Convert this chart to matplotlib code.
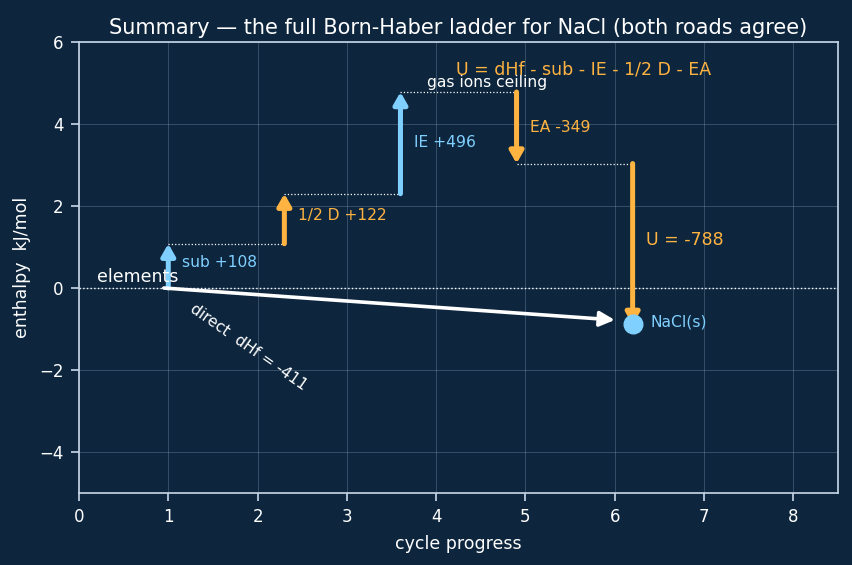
import matplotlib
matplotlib.use("Agg")
import matplotlib.pyplot as plt

# data (y positions in chart units as drawn)
steps_x = [1.0, 2.3, 3.6, 4.9, 6.2]
levels = [0.0, 1.08, 2.30, 4.78, 3.035, -0.9]
step_labels = ["sub +108", "1/2 D +122", "IE +496", "EA -349", "U = -788"]
step_colors = ["#7fd0ff", "#ffb340", "#7fd0ff", "#ffb340", "#ffb340"]
direct_start = (0.95, 0.0)
direct_end = (6.0, -0.78)
nacl_point = (6.2, -0.87)

BG = "#0d263e"
FG = "white"
SPINE = "#c8d8e8"

fig = plt.figure(figsize=(8.52, 5.65), dpi=100, facecolor=BG)
ax = fig.add_axes([0.0927, 0.1274, 0.8909, 0.7983], facecolor=BG)
ax.set_xlim(0, 8.5)
ax.set_ylim(-5, 6)
ax.grid(True, color="#8fb0c8", alpha=0.3, lw=0.7)
ax.set_axisbelow(True)
for s in ax.spines.values():
    s.set_color(SPINE)
    s.set_linewidth(1.2)
ax.tick_params(colors=FG, labelsize=12, length=6, width=1.2, pad=5)
ax.tick_params(axis="both", color=SPINE)
ax.set_xlabel("cycle progress", color=FG, fontsize=12.5, labelpad=6)
ax.set_ylabel("enthalpy  kJ/mol", color=FG, fontsize=12.5, labelpad=6)
ax.set_title("Summary \u2014 the full Born-Haber ladder for NaCl (both roads agree)",
             color=FG, fontsize=15)

ax.axhline(0, color=FG, ls=":", lw=1.0)

# steps
label_dy = [0.07, 0.07, 0.0, 0.0, 0.1]
for i, x in enumerate(steps_x):
    y0, y1 = levels[i], levels[i + 1]
    ax.annotate("", xy=(x, y1), xytext=(x, y0),
                arrowprops=dict(arrowstyle="-|>,head_length=0.7,head_width=0.4",
                                color=step_colors[i], lw=3.6, shrinkA=0, shrinkB=0))
    if i < len(steps_x) - 1:
        ax.plot([x, steps_x[i + 1]], [y1, y1], color=FG, ls=":", lw=0.9)
    ax.text(x + 0.15, (y0 + y1) / 2 + label_dy[i], step_labels[i],
            color=step_colors[i], fontsize=12.5 if i == 4 else 11.2,
            va="center", ha="left")

# direct road
ax.annotate("", xy=direct_end, xytext=direct_start,
            arrowprops=dict(arrowstyle="-|>,head_length=0.9,head_width=0.45",
                            color=FG, lw=2.6, shrinkA=0, shrinkB=0))
ax.text(1.9, -1.45, "direct  dHf = -411", color=FG, fontsize=11.2,
        rotation=-35, ha="center", va="center")
ax.text(0.2, 0.28, "elements", color=FG, fontsize=12.5, ha="left", va="center")

ax.scatter([nacl_point[0]], [nacl_point[1]], s=180, color="#7fd0ff", zorder=5)
ax.text(nacl_point[0] + 0.2, nacl_point[1] + 0.05, "NaCl(s)", color="#7fd0ff",
        fontsize=11.2, ha="left", va="center")

ax.text(3.9, 5.0, "gas ions ceiling", color=FG, fontsize=11.2, ha="left", va="center")
ax.text(5.65, 5.33, "U = dHf - sub - IE - 1/2 D - EA", color="#ffb340",
        fontsize=12.5, ha="center", va="center")

fig.savefig("out.png", dpi=100, facecolor=BG)
